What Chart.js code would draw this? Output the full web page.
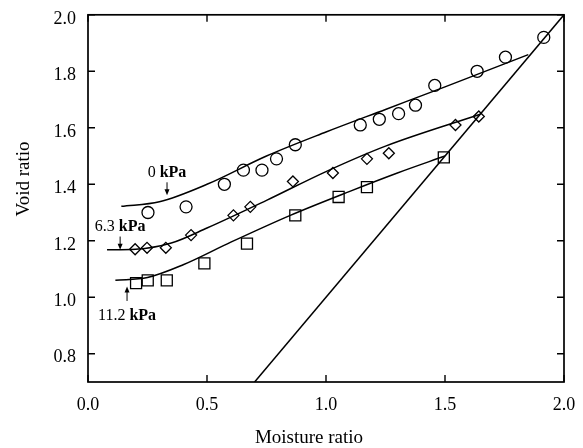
<!DOCTYPE html>
<html><head><meta charset="utf-8">
<script src="https://cdn.jsdelivr.net/npm/chart.js@4/dist/chart.umd.min.js"></script>
<style>html,body{margin:0;padding:0;background:#fff;}#wrap{width:583px;height:448px;}</style>
</head><body><div id="wrap"><canvas id="c" width="583" height="448"></canvas></div>
<script>
const xTicks = [0, 0.5, 1.0, 1.5, 2.0];
const yTicks = [0.8, 1.0, 1.2, 1.4, 1.6, 1.8, 2.0];

// measured points
const moist0  = [0.252,0.412,0.573,0.653,0.731,0.792,0.871,1.144,1.224,1.305,1.376,1.457,1.635,1.754,1.915];
const void0   = [1.30, 1.32, 1.40, 1.45, 1.45, 1.49, 1.54, 1.61, 1.63, 1.65, 1.68, 1.75, 1.80, 1.85, 1.92];
const moist63 = [0.198,0.248,0.327,0.433,0.611,0.682,0.861,1.029,1.172,1.264,1.544,1.642];
const void63  = [1.17, 1.175,1.175,1.22, 1.29, 1.32, 1.41, 1.44, 1.49, 1.51, 1.61, 1.64];
const moist112= [0.202,0.251,0.331,0.489,0.668,0.871,1.053,1.172,1.495];
const void112 = [1.05, 1.06, 1.06, 1.12, 1.19, 1.29, 1.355,1.39, 1.495];

// fitted curves
const curve0X  = [0.14, 0.30, 0.50, 0.75, 1.00, 1.25, 1.50, 1.85];
const curve0Y  = [1.322,1.338,1.400,1.500,1.585,1.665,1.745,1.859];
const curve63X = [0.08, 0.20, 0.35, 0.50, 0.75, 1.00, 1.25, 1.648];
const curve63Y = [1.168,1.170,1.192,1.245,1.343,1.445,1.535,1.648];
const curve112X= [0.115,0.25, 0.40, 0.60, 0.85, 1.10, 1.30, 1.5];
const curve112Y= [1.060,1.070,1.115,1.195,1.290,1.375,1.440,1.5];

// saturation line
const satX = [0.7, 2.0];
const satY = [0.7, 2.0];

// annotations
const annNum   = ['0', '6.3', '11.2'];
const annUnit  = 'kPa';
const annX     = [0.332, 0.135, 0.164];
const annTextY = [1.439, 1.249, 0.933];
const annTail  = [1.407, 1.215, 0.987];
const annTip   = [1.361, 1.168, 1.038];

const xTitle = 'Moisture ratio';
const yTitle = 'Void ratio';

const zip = (xs, ys) => xs.map((x, i) => ({x, y: ys[i]}));
const FONT = '"Liberation Serif", "Times New Roman", serif';

const pts = (data, style, r) => ({
  type: 'scatter', data, showLine: false, pointStyle: style, pointRadius: r,
  pointBorderWidth: 1.3, pointBorderColor: '#000', pointBackgroundColor: 'rgba(0,0,0,0)'
});
const line = (data) => ({
  type: 'line', data, borderColor: '#000', borderWidth: 1.5, pointRadius: 0,
  cubicInterpolationMode: 'monotone', fill: false
});

const deco = {
  id: 'deco',
  afterDraw(chart) {
    const ctx = chart.ctx, a = chart.chartArea, xs = chart.scales.x, ys = chart.scales.y;
    ctx.save();
    ctx.strokeStyle = '#000';
    ctx.lineWidth = 1.7;
    ctx.strokeRect(a.left, a.top, a.right - a.left, a.bottom - a.top);
    ctx.lineWidth = 1.4;
    const tl = 7;
    ctx.beginPath();
    xTicks.forEach(v => {
      const p = xs.getPixelForValue(v);
      ctx.moveTo(p, a.bottom); ctx.lineTo(p, a.bottom - tl);
      ctx.moveTo(p, a.top); ctx.lineTo(p, a.top + tl);
    });
    yTicks.forEach(v => {
      const p = ys.getPixelForValue(v);
      ctx.moveTo(a.left, p); ctx.lineTo(a.left + tl, p);
      ctx.moveTo(a.right, p); ctx.lineTo(a.right - tl, p);
    });
    ctx.stroke();

    // annotations
    ctx.fillStyle = '#000';
    ctx.textBaseline = 'middle';
    annNum.forEach((n, i) => {
      const px = xs.getPixelForValue(annX[i]);
      const ty = ys.getPixelForValue(annTextY[i]);
      ctx.font = '16px ' + FONT;
      const w1 = ctx.measureText(n + ' ').width;
      ctx.font = 'bold 16px ' + FONT;
      const w2 = ctx.measureText(annUnit).width;
      const x0 = px - (w1 + w2) / 2;
      ctx.textAlign = 'left';
      ctx.font = '16px ' + FONT;
      ctx.fillText(n + ' ', x0, ty);
      ctx.font = 'bold 16px ' + FONT;
      ctx.fillText(annUnit, x0 + w1, ty);
      const y1 = ys.getPixelForValue(annTail[i]);
      const y2 = ys.getPixelForValue(annTip[i]);
      const dir = y2 > y1 ? 1 : -1;
      ctx.lineWidth = 1;
      ctx.beginPath(); ctx.moveTo(px, y1); ctx.lineTo(px, y2 - dir * 3); ctx.stroke();
      ctx.beginPath();
      ctx.moveTo(px, y2); ctx.lineTo(px - 2.5, y2 - dir * 6); ctx.lineTo(px + 2.5, y2 - dir * 6);
      ctx.closePath(); ctx.fill();
    });

    // axis titles
    ctx.font = '19px ' + FONT;
    ctx.textAlign = 'center';
    ctx.fillText(xTitle, 309, 438);
    ctx.translate(24, 179);
    ctx.rotate(-Math.PI / 2);
    ctx.fillText(yTitle, 0, 0);
    ctx.restore();
  }
};

new Chart(document.getElementById('c'), {
  data: {
    datasets: [
      line(zip(curve0X, curve0Y)),
      line(zip(curve63X, curve63Y)),
      line(zip(curve112X, curve112Y)),
      {type: 'line', data: zip(satX, satY), borderColor: '#000', borderWidth: 1.5, pointRadius: 0, tension: 0},
      pts(zip(moist0, void0), 'circle', 6),
      pts(zip(moist63, void63), 'rectRot', 5.5),
      pts(zip(moist112, void112), 'rect', 7.8)
    ]
  },
  options: {
    responsive: false,
    animation: false,
    layout: {padding: {top: 13, right: 19, left: 0, bottom: 0}},
    plugins: {legend: {display: false}, tooltip: {enabled: false}},
    scales: {
      x: {
        type: 'linear', min: 0, max: 2,
        afterBuildTicks: s => { s.ticks = xTicks.map(v => ({value: v})); },
        afterFit: s => { s.height = 66; },
        grid: {display: false}, border: {display: false},
        ticks: {callback: v => Number(v).toFixed(1), font: {family: FONT, size: 18}, color: '#000', padding: 4, maxRotation: 0, autoSkip: false}
      },
      y: {
        type: 'linear', min: 0.7, max: 2.0,
        afterBuildTicks: s => { s.ticks = yTicks.map(v => ({value: v})); },
        afterFit: s => { s.width = 88; },
        grid: {display: false}, border: {display: false},
        ticks: {callback: v => Number(v).toFixed(1), font: {family: FONT, size: 18}, color: '#000', padding: 4, labelOffset: 4, autoSkip: false}
      }
    }
  },
  plugins: [deco]
});
</script>
</body></html>
